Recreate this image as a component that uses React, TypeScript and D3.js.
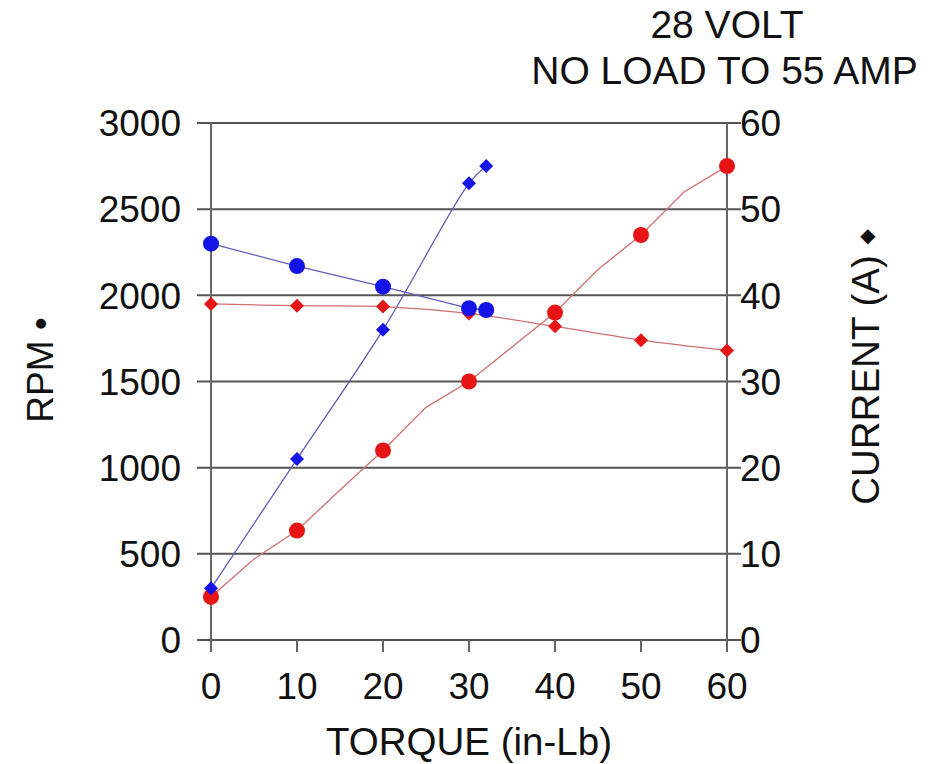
import React from "react";
import * as d3 from "d3";

const torqueTicks = [0, 10, 20, 30, 40, 50, 60];
const rpmTicks = [0, 500, 1000, 1500, 2000, 2500, 3000];
const currentTicks = [0, 10, 20, 30, 40, 50, 60];

// Blue motor
const blueTorque = [0, 10, 20, 30, 32];
const blueRpm = [2300, 2170, 2050, 1925, 1915];
const blueCurrent = [6, 21, 36, 53, 55];

// Red motor
const redTorque = [0, 10, 20, 30, 40, 50, 60];
const redRpm = [250, 635, 1100, 1500, 1900, 2350, 2750];
const redCurrent = [39, 38.8, 38.7, 37.9, 36.4, 34.8, 33.6];

// Red RPM trend line (denser points)
const redRpmLineTorque = [0, 5, 10, 15, 20, 25, 30, 35, 40, 45, 50, 55, 60];
const redRpmLineValues = [250, 470, 635, 870, 1100, 1350, 1500, 1700, 1900, 2150, 2350, 2600, 2750];

const W = 943;
const H = 764;
const L = 211;
const R = 727;
const T = 123;
const B = 640;
const FONT = "'Liberation Sans', Arial, sans-serif";

export default function App() {
  const x = d3.scaleLinear().domain([0, 60]).range([L, R]);
  const yL = d3.scaleLinear().domain([0, 3000]).range([B, T]);
  const yR = d3.scaleLinear().domain([0, 60]).range([B, T]);

  const lineRpmBlue = d3
    .line<number>()
    .x((_, i) => x(blueTorque[i]))
    .y((d) => yL(d))(blueRpm) as string;
  const lineCurBlue = d3
    .line<number>()
    .curve(d3.curveCatmullRom.alpha(0.5))
    .x((_, i) => x(blueTorque[i]))
    .y((d) => yR(d))(blueCurrent) as string;
  const lineRpmRed = d3
    .line<number>()
    .x((_, i) => x(redRpmLineTorque[i]))
    .y((d) => yL(d))(redRpmLineValues) as string;
  const lineCurRed = d3
    .line<number>()
    .curve(d3.curveCatmullRom.alpha(0.5))
    .x((_, i) => x(redTorque[i]))
    .y((d) => yR(d))(redCurrent) as string;

  const diamond = (cx: number, cy: number, r: number) =>
    `M${cx},${cy - r}L${cx + r},${cy}L${cx},${cy + r}L${cx - r},${cy}Z`;

  const blue = "#1414e6";
  const red = "#e61414";
  const blueLine = "#5e5eb8";
  const redLine = "#d07070";
  const grid = "#555";

  return (
    <svg
      width={W}
      height={H}
      style={{ position: "absolute", left: 0, top: 0, background: "#fff" }}
      fontFamily={FONT}
    >
      {/* gridlines */}
      {rpmTicks.map((t) => (
        <line key={"g" + t} x1={L - 14} x2={R + 14} y1={yL(t)} y2={yL(t)} stroke={grid} strokeWidth={2} />
      ))}
      {/* vertical axes */}
      <line x1={L} x2={L} y1={T} y2={B + 12} stroke="#666" strokeWidth={2} />
      <line x1={R} x2={R} y1={T} y2={B + 12} stroke="#666" strokeWidth={2} />
      {torqueTicks.map((t) => (
        <line key={"xt" + t} x1={x(t)} x2={x(t)} y1={B} y2={B + 12} stroke="#666" strokeWidth={2} />
      ))}

      {/* tick labels */}
      {rpmTicks.map((t) => (
        <text key={"yl" + t} x={181} y={yL(t)} dy="0.36em" textAnchor="end" fontSize={37} fill="#111">
          {t}
        </text>
      ))}
      {currentTicks.map((t) => (
        <text key={"yr" + t} x={740} y={yR(t)} dy="0.36em" textAnchor="start" fontSize={37} fill="#111">
          {t}
        </text>
      ))}
      {torqueTicks.map((t) => (
        <text key={"xl" + t} x={x(t)} y={699} textAnchor="middle" fontSize={37} fill="#111">
          {t}
        </text>
      ))}

      {/* axis titles */}
      <text x={469} y={755} textAnchor="middle" fontSize={38.5} fill="#111">
        TORQUE (in-Lb)
      </text>
      <text
        transform="translate(53,370) rotate(-90)"
        textAnchor="middle"
        fontSize={37}
        fill="#111"
      >
        RPM •
      </text>
      <text
        transform="translate(879,367) rotate(-90)"
        textAnchor="middle"
        fontSize={38.5}
        fill="#111"
      >
        CURRENT (A) <tspan fontSize={20} fontFamily="DejaVu Sans" dy="-0.3em">◆</tspan>
      </text>

      {/* title */}
      <text x={727} y={38} textAnchor="middle" fontSize={39} fill="#111">
        28 VOLT
      </text>
      <text x={724.5} y={84} textAnchor="middle" fontSize={39} fill="#111">
        NO LOAD TO 55 AMP
      </text>

      {/* lines */}
      <path d={lineCurBlue} fill="none" stroke={blueLine} strokeWidth={1.3} />
      <path d={lineRpmBlue} fill="none" stroke={blueLine} strokeWidth={1.3} />
      <path d={lineRpmRed} fill="none" stroke={redLine} strokeWidth={1.3} />
      <path d={lineCurRed} fill="none" stroke={redLine} strokeWidth={1.3} />

      {/* markers */}
      {redCurrent.map((v, i) => (
        <path key={"rc" + i} d={diamond(x(redTorque[i]), yR(v), 7)} fill={red} />
      ))}
      {redRpm.map((v, i) => (
        <circle key={"rr" + i} cx={x(redTorque[i])} cy={yL(v)} r={8} fill={red} />
      ))}
      {blueCurrent.map((v, i) => (
        <path key={"bc" + i} d={diamond(x(blueTorque[i]), yR(v), 7)} fill={blue} />
      ))}
      {blueRpm.map((v, i) => (
        <circle key={"br" + i} cx={x(blueTorque[i])} cy={yL(v)} r={8} fill={blue} />
      ))}
    </svg>
  );
}
